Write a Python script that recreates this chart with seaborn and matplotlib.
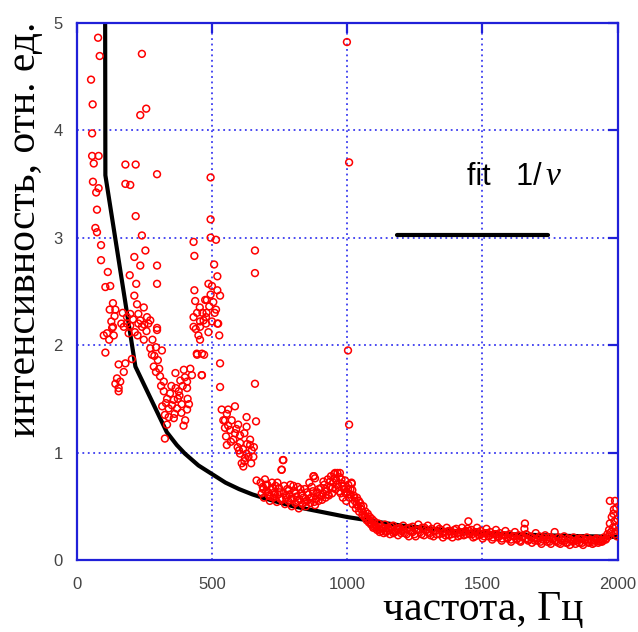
import matplotlib
matplotlib.use("Agg")
import matplotlib.pyplot as plt
import seaborn as sns
import numpy as np

# ---------------- data ----------------
# scattered measurements, low-frequency part (Hz, rel. units)
freq_low = [79, 85, 53, 59, 57, 57, 81, 63, 180, 218, 297, 60, 180, 198, 81, 72, 75, 218,
            241, 257, 235, 69, 75, 241, 90, 254, 432, 435, 90, 213, 235, 297, 115, 196,
            220, 297, 106, 124, 435, 213, 438, 475, 134, 223, 122, 143, 248, 198, 228,
            186, 260, 235, 272, 134, 174, 198, 432, 469, 432, 297,
            131, 112, 100, 137, 186, 192, 228, 241, 265, 297, 248, 106, 272, 293, 315,
            278, 204, 180, 155, 285, 174, 293, 308, 149, 161, 143, 155, 155, 322, 322,
            365, 396, 420, 383, 408, 426, 408, 377, 334, 359, 352, 340, 371, 408, 326,
            359, 401, 334, 326, 463, 445, 463, 450, 456,
            495, 495, 515, 508, 520, 659, 659, 487, 520, 495, 530, 481, 456, 478, 478,
            520, 495,
            523, 527, 456, 444, 471, 530, 462, 530, 659, 585, 536, 555, 628, 663, 542,
            573, 597, 548, 628, 567, 585, 604, 552, 579, 641, 555, 604, 641,
            604, 628, 647, 622, 653, 610, 616,
            120, 128, 140, 165, 170, 208, 215, 225, 250, 258, 280, 287, 300, 305, 312,
            330, 345, 350, 362, 366, 374, 380, 388, 392, 400, 410, 415, 387, 395, 340,
            316, 480, 490, 500, 505, 515, 487, 500, 510, 465, 445, 440, 455, 560, 590,
            620, 595, 615, 635, 630, 570, 548, 560, 600, 655, 645, 620]
intens_low = [4.86, 4.69, 4.47, 4.24, 3.97, 3.76, 3.76, 3.69, 3.68, 3.68, 3.59, 3.52, 3.50,
              3.49, 3.46, 3.42, 3.26, 3.20, 4.71, 4.20, 4.14, 3.09, 3.05, 3.02, 2.93, 2.88,
              2.96, 2.83, 2.79, 2.82, 2.74, 2.74, 2.68, 2.65, 2.57, 2.57, 2.54, 2.55, 2.51,
              2.46, 2.41, 2.42, 2.39, 2.38, 2.33, 2.33, 2.35, 2.29, 2.29, 2.26, 2.26, 2.23,
              2.23, 2.17, 2.17, 2.18, 2.26, 2.23, 2.17, 2.16,
              2.16, 2.11, 2.09, 2.09, 2.20, 2.11, 2.20, 2.17, 2.20, 2.14, 2.05, 1.93, 1.97,
              1.98, 1.95, 1.91, 1.87, 1.83, 1.82, 1.80, 1.75, 1.75, 1.71, 1.69, 1.66, 1.64,
              1.60, 1.57, 1.66, 1.57, 1.74, 1.77, 1.78, 1.67, 1.66, 1.72, 1.60, 1.57, 1.50,
              1.49, 1.44, 1.41, 1.41, 1.40, 1.35, 1.32, 1.30, 1.26, 1.13, 1.72, 1.91, 1.92,
              2.09, 2.17,
              3.17, 3.00, 2.98, 2.75, 2.64, 2.88, 2.67, 2.57, 2.51, 2.47, 2.46, 2.42, 2.22,
              2.26, 2.20, 2.20, 3.56,
              2.20, 2.09, 2.05, 1.92, 1.91, 1.83, 1.72, 1.61, 1.64, 1.43, 1.40, 1.36, 1.33,
              1.29, 1.30, 1.30, 1.26, 1.23, 1.24, 1.21, 1.18, 1.16, 1.15, 1.12, 1.12, 1.07,
              1.09, 1.07,
              0.99, 0.99, 1.02, 0.95, 0.96, 0.90, 0.87,
              2.05, 2.22, 2.27, 2.20, 2.30, 2.24, 2.12, 2.09, 2.19, 2.13, 2.05, 1.90, 1.86,
              1.78, 1.62, 1.46, 1.55, 1.62, 1.36, 1.60, 1.50, 1.53, 1.45, 1.62, 1.70, 1.50,
              1.45, 1.37, 1.25, 1.33, 1.43, 2.30, 2.36, 2.55, 2.40, 2.33, 2.12, 2.22, 2.30,
              2.30, 2.30, 2.15, 2.35, 1.25, 1.22, 1.18, 1.05, 1.03, 0.96, 1.08, 1.10, 1.30,
              1.40, 1.02, 1.05, 0.90, 0.92]

# scattered measurements, high-frequency band (first pass)
freq_high = [680, 684, 688, 692, 696, 700, 705, 710, 714, 718, 722, 727, 731, 735, 740, 744,
             748, 752, 757, 762, 765, 770, 774, 778, 782, 786, 790, 795, 800, 804, 808, 812,
             817, 821, 825, 830, 834, 838, 843, 847, 851, 856, 860, 864, 868, 873, 877, 881,
             885, 890, 894, 898, 903, 907, 911, 915, 920, 924, 928, 932, 936, 940, 944, 948,
             952, 956, 960, 964, 968, 972, 976, 980, 984, 988, 992, 996, 1000, 1004, 1008,
             1012, 1016, 1020, 1024, 1028, 1032, 1036, 1040, 1044, 1048, 1052, 1056, 1060,
             1064, 1068, 1072, 1076, 1080, 1084, 1088, 1092, 1096, 1100, 1105, 1110, 1115,
             1120, 1125, 1130, 1135, 1140, 1146, 1152, 1158, 1164, 1170, 1176, 1182, 1188,
             1194, 1200, 1207, 1214, 1221, 1228, 1235, 1242, 1249, 1256, 1263, 1270, 1277,
             1284, 1291, 1298, 1305, 1312, 1319, 1326, 1333, 1340, 1347, 1354, 1361, 1368,
             1375, 1382, 1389, 1396, 1403, 1410, 1417, 1424, 1431, 1438, 1445, 1448, 1452,
             1459, 1466, 1473, 1480, 1487, 1494, 1501, 1508, 1515, 1522, 1529, 1536, 1543,
             1550, 1557, 1564, 1571, 1578, 1585, 1592, 1599, 1606, 1613, 1620, 1627, 1634,
             1641, 1648, 1655, 1657, 1662, 1669, 1676, 1683, 1690, 1697, 1704, 1711, 1718,
             1725, 1732, 1739, 1746, 1753, 1760, 1767, 1774, 1781, 1788, 1795, 1802, 1809,
             1816, 1823, 1830, 1837, 1844, 1851, 1858, 1865, 1872, 1879, 1886, 1893, 1900,
             1907, 1914, 1921, 1928, 1935, 1942, 1949, 1956, 1962, 1968, 1971, 1975, 1978,
             1982, 1984, 1988, 1990, 1992, 1994, 1995, 1997, 1999, 1971,
             999, 1007, 1003, 1007, 764, 758, 875, 665, 881, 955, 973, 1017]
intens_high = [0.72, 0.62, 0.68, 0.58, 0.75, 0.64, 0.70, 0.60, 0.55, 0.66, 0.72, 0.58, 0.63,
               0.69, 0.54, 0.61, 0.67, 0.57, 0.84, 0.93, 0.62, 0.52, 0.58, 0.66, 0.55, 0.61,
               0.70, 0.50, 0.57, 0.64, 0.53, 0.59, 0.68, 0.48, 0.56, 0.62, 0.52, 0.58, 0.66,
               0.50, 0.55, 0.61, 0.72, 0.53, 0.58, 0.64, 0.78, 0.51, 0.57, 0.63, 0.55, 0.60,
               0.67, 0.56, 0.62, 0.70, 0.58, 0.64, 0.75, 0.60, 0.68, 0.78, 0.62, 0.72, 0.80,
               0.66, 0.74, 0.81, 0.68, 0.77, 0.62, 0.71, 0.58, 0.66, 0.74, 0.55, 0.63, 0.70,
               0.58, 0.66, 0.72, 0.52, 0.60, 0.55, 0.48, 0.58, 0.50, 0.45, 0.53, 0.47, 0.42,
               0.50, 0.40, 0.45, 0.37, 0.43, 0.35, 0.40, 0.33, 0.38, 0.30, 0.36, 0.32, 0.28,
               0.34, 0.26, 0.31, 0.29, 0.25, 0.33, 0.27, 0.30, 0.24, 0.28, 0.32, 0.26, 0.29,
               0.23, 0.30, 0.27, 0.32, 0.25, 0.29, 0.22, 0.27, 0.31, 0.24, 0.28, 0.33, 0.26,
               0.30, 0.23, 0.28, 0.32, 0.25, 0.29, 0.22, 0.27, 0.31, 0.24, 0.28, 0.21, 0.26,
               0.30, 0.23, 0.27, 0.21, 0.25, 0.29, 0.22, 0.26, 0.30, 0.23, 0.27, 0.29, 0.36,
               0.24, 0.28, 0.21, 0.26, 0.30, 0.23, 0.27, 0.20, 0.25, 0.29, 0.22, 0.26, 0.19,
               0.24, 0.28, 0.21, 0.25, 0.18, 0.23, 0.27, 0.20, 0.24, 0.17, 0.22, 0.26, 0.19,
               0.23, 0.17, 0.21, 0.29, 0.34, 0.24, 0.18, 0.22, 0.16, 0.20, 0.25, 0.18, 0.22,
               0.15, 0.19, 0.23, 0.17, 0.21, 0.15, 0.19, 0.26, 0.17, 0.21, 0.15, 0.18, 0.22,
               0.16, 0.20, 0.14, 0.18, 0.21, 0.15, 0.19, 0.16, 0.20, 0.14, 0.18, 0.21, 0.16,
               0.19, 0.15, 0.18, 0.20, 0.16, 0.19, 0.17, 0.21, 0.19, 0.24, 0.28, 0.34, 0.26,
               0.40, 0.30, 0.43, 0.36, 0.55, 0.24, 0.31, 0.48, 0.22, 0.38, 0.55,
               4.82, 3.70, 1.95, 1.26, 0.93, 0.84, 0.78, 0.74, 0.76, 0.81, 0.81, 0.71]

# scattered measurements, high-frequency band (second pass)
freq_band = [690, 699, 708, 716, 725, 733, 742, 750, 759, 767, 776, 784, 793, 801, 810, 818,
             827, 835, 844, 852, 861, 869, 878, 886, 895, 903, 912, 920, 929, 937, 946, 954,
             962, 970, 979, 987, 995, 1003, 1011, 1019, 1027, 1035, 1043, 1051, 1059, 1067,
             1075, 1083, 1091, 1099, 1108, 1117, 1126, 1135, 1144, 1153, 1162, 1171, 1180,
             1190, 1199, 1210, 1220, 1231, 1242, 1253, 1264, 1275, 1286, 1297, 1308, 1319,
             1330, 1341, 1352, 1363, 1374, 1385, 1396, 1407, 1418, 1429, 1440, 1451, 1462,
             1473, 1484, 1495, 1506, 1517, 1528, 1539, 1550, 1561, 1572, 1583, 1594, 1605,
             1616, 1627, 1638, 1649, 1660, 1671, 1682, 1693, 1704, 1715, 1726, 1737, 1748,
             1759, 1770, 1781, 1792, 1803, 1814, 1825, 1836, 1847, 1858, 1869, 1880, 1891,
             1902, 1913, 1924, 1935, 1946, 1957, 1966, 1986, 1998]
intens_band = [0.66, 0.70, 0.63, 0.59, 0.67, 0.61, 0.72, 0.63, 0.56, 0.69, 0.60, 0.65, 0.57,
               0.69, 0.62, 0.55, 0.66, 0.60, 0.54, 0.63, 0.57, 0.68, 0.54, 0.62, 0.66, 0.59,
               0.73, 0.66, 0.61, 0.73, 0.67, 0.76, 0.70, 0.64, 0.75, 0.69, 0.62, 0.66, 0.61,
               0.65, 0.58, 0.52, 0.55, 0.50, 0.44, 0.41, 0.39, 0.37, 0.34, 0.31, 0.30, 0.29,
               0.27, 0.30, 0.26, 0.28, 0.31, 0.25, 0.27, 0.29, 0.25, 0.28, 0.24, 0.30, 0.26,
               0.22, 0.28, 0.24, 0.30, 0.26, 0.23, 0.27, 0.24, 0.29, 0.25, 0.23, 0.27, 0.24,
               0.28, 0.25, 0.23, 0.26, 0.24, 0.27, 0.24, 0.22, 0.26, 0.24, 0.22, 0.25, 0.23,
               0.21, 0.24, 0.22, 0.20, 0.23, 0.21, 0.19, 0.22, 0.20, 0.18, 0.22, 0.20, 0.19,
               0.21, 0.18, 0.20, 0.17, 0.21, 0.19, 0.17, 0.20, 0.18, 0.16, 0.20, 0.18, 0.16,
               0.19, 0.17, 0.18, 0.20, 0.16, 0.19, 0.17, 0.18, 0.16, 0.19, 0.17, 0.18, 0.20,
               0.22, 0.47, 0.27]

# 1/nu fit curve
fit_x = [105, 106, 217, 333, 370, 400, 450, 500, 550, 600, 650, 700, 800, 900, 1000, 1100,
         1200, 1400, 1600, 1800, 2000]
fit_y = [5.3, 3.58, 1.80, 1.19, 1.07, 0.99, 0.88, 0.80, 0.72, 0.66, 0.61, 0.57, 0.50, 0.45,
         0.40, 0.36, 0.32, 0.27, 0.24, 0.225, 0.215]

# legend segment
legend_x = [1184, 1742]
legend_y = [3.02, 3.02]

x_ticks = [0, 500, 1000, 1500, 2000]
y_ticks = [0, 1, 2, 3, 4, 5]

xlabel = "частота, Гц"
ylabel = "интенсивность, отн. ед."

# ---------------- figure ----------------
sns.set_style("white")
plt.rcParams['font.family'] = ['Liberation Sans', 'DejaVu Sans']

W, H = 638, 632
fig = plt.figure(figsize=(W / 100, H / 100), dpi=100)
ax = fig.add_axes([76.7 / W, 1 - 560 / H, (617.7 - 76.7) / W, (560 - 22.7) / H])

blue = '#2020d8'
grid_blue = '#3c3cf0'

sns.lineplot(x=fit_x, y=fit_y, ax=ax, color='black', lw=3.0, sort=False,
             estimator=None, zorder=2)
sns.lineplot(x=legend_x, y=legend_y, ax=ax, color='black', lw=3.0, sort=False,
             estimator=None, zorder=2)

freq = freq_low + freq_high + freq_band
intens = intens_low + intens_high + intens_band
sns.scatterplot(x=freq, y=intens, ax=ax, marker='o', s=24, facecolors='none',
                edgecolor='#ff0000', linewidth=1.1, zorder=3, legend=False)

ax.set_xlim(0, 2000)
ax.set_ylim(0, 5)
ax.set_xticks(x_ticks)
ax.set_yticks(y_ticks)
ax.set_xticklabels([str(t) for t in x_ticks])
ax.set_yticklabels([str(t) for t in y_ticks])

ax.grid(True, color=grid_blue, linestyle=(0, (1, 2)), linewidth=1.3, zorder=1)
ax.set_axisbelow(True)
for s in ax.spines.values():
    s.set_color(blue)
    s.set_linewidth(1.6)
    s.set_visible(True)

ax.tick_params(axis='both', direction='in', length=7, width=1.6, color=blue,
               labelsize=12, labelcolor='#444444', top=True, right=True)
ax.tick_params(axis='x', pad=12)
ax.tick_params(axis='y', pad=10)

ax.set_xlabel("")
ax.set_ylabel("")

fig.text(383 / W, 1 - 620 / H, xlabel, fontsize=30, family='Liberation Serif',
         ha='left', va='baseline', rotation_mode='anchor', color='black')
fig.text(35 / W, 1 - 437 / H, ylabel, fontsize=30, family='Liberation Serif',
         ha='left', va='baseline', rotation=90, rotation_mode='anchor', color='black')

fig.text(466.7 / W, 1 - 185 / H, "fit   1/", fontsize=22, family='Liberation Sans',
         ha='left', va='baseline', color='black')
fig.text(546 / W, 1 - 185 / H, "ν", fontsize=24, family='Liberation Serif',
         style='italic', ha='left', va='baseline', color='black')

fig.savefig("out.png", dpi=100)
